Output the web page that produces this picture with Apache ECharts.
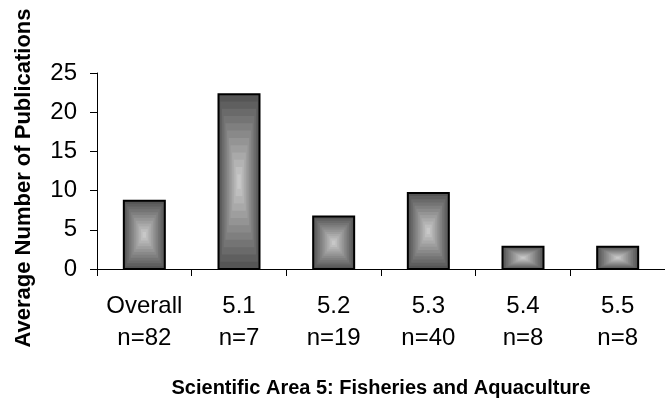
<!DOCTYPE html>
<html><head><meta charset="utf-8">
<script src="https://cdn.jsdelivr.net/npm/echarts@6/dist/echarts.min.js"></script>
<style>html,body{margin:0;padding:0;background:#fff}#c{width:665px;height:401px}</style>
</head><body><div id="c"></div>
<script>
const categories = ['Overall', '5.1', '5.2', '5.3', '5.4', '5.5'];
const sampleSizes = ['n=82', 'n=7', 'n=19', 'n=40', 'n=8', 'n=8'];
const avgPublications = [8.7, 22.3, 6.7, 9.7, 2.85, 2.85];
const yTickValues = [0, 5, 10, 15, 20, 25];

const FONT = '"Liberation Sans", Arial, sans-serif';
const BAR_W = 41;
const BANDS = 12;
const OUTER = [85, 85, 85], INNER = [200, 200, 200];

function shade(t) {
  const c = OUTER.map((o, k) => Math.round(o + (INNER[k] - o) * t));
  return 'rgb(' + c.join(',') + ')';
}

const chart = echarts.init(document.getElementById('c'), null, { renderer: 'canvas' });
chart.setOption({
  animation: false,
  backgroundColor: '#fff',
  grid: { left: 97, right: -8, top: 73, bottom: 132, containLabel: false },
  xAxis: {
    type: 'category',
    data: categories,
    name: 'Scientific Area 5: Fisheries and Aquaculture',
    nameLocation: 'middle',
    nameGap: 109,
    nameTextStyle: { fontFamily: FONT, fontWeight: 'bold', fontSize: 20, color: '#000' },
    axisLine: { lineStyle: { color: '#000', width: 1 } },
    axisTick: { show: true, length: 7, lineStyle: { color: '#000' } },
    axisLabel: {
      interval: 0, hideOverlap: false,
      margin: 21, color: '#000', fontFamily: FONT, fontSize: 24, lineHeight: 32,
      formatter: (v, i) => v + '\n' + sampleSizes[i]
    }
  },
  yAxis: {
    type: 'value', min: 0, max: 25, interval: 5,
    name: 'Average Number of Publications',
    nameLocation: 'middle',
    nameGap: 62,
    nameTextStyle: { fontFamily: FONT, fontWeight: 'bold', fontSize: 22, color: '#000', padding: [0, 14, 0, 0] },
    axisLine: { show: true, lineStyle: { color: '#000', width: 1 } },
    axisTick: { show: true, length: 7, lineStyle: { color: '#000' } },
    splitLine: { show: false },
    axisLabel: {
      margin: 20, color: '#000', fontFamily: FONT, fontSize: 24,
      formatter: v => yTickValues.includes(v) ? String(v) : ''
    }
  },
  series: [{
    type: 'custom',
    data: avgPublications.map((v, i) => [i, v]),
    encode: { x: 0, y: 1 },
    renderItem: function (params, api) {
      const top = api.coord([api.value(0), api.value(1)]);
      const base = api.coord([api.value(0), 0]);
      const x0 = top[0] - BAR_W / 2, y0 = top[1];
      const w = BAR_W, h = base[1] - top[1];
      const children = [];
      for (let b = 0; b < BANDS; b++) {
        const f = b / BANDS;
        const ix = f * w / 2, iy = f * h / 2;
        children.push({
          type: 'rect',
          shape: { x: x0 + ix, y: y0 + iy, width: w - 2 * ix, height: h - 2 * iy },
          style: { fill: shade(b / (BANDS - 1)) }
        });
      }
      children.push({
        type: 'rect',
        shape: { x: x0, y: y0, width: w, height: h },
        style: { fill: 'none', stroke: '#000', lineWidth: 2 }
      });
      return { type: 'group', children: children };
    }
  }]
});
</script>
</body></html>
